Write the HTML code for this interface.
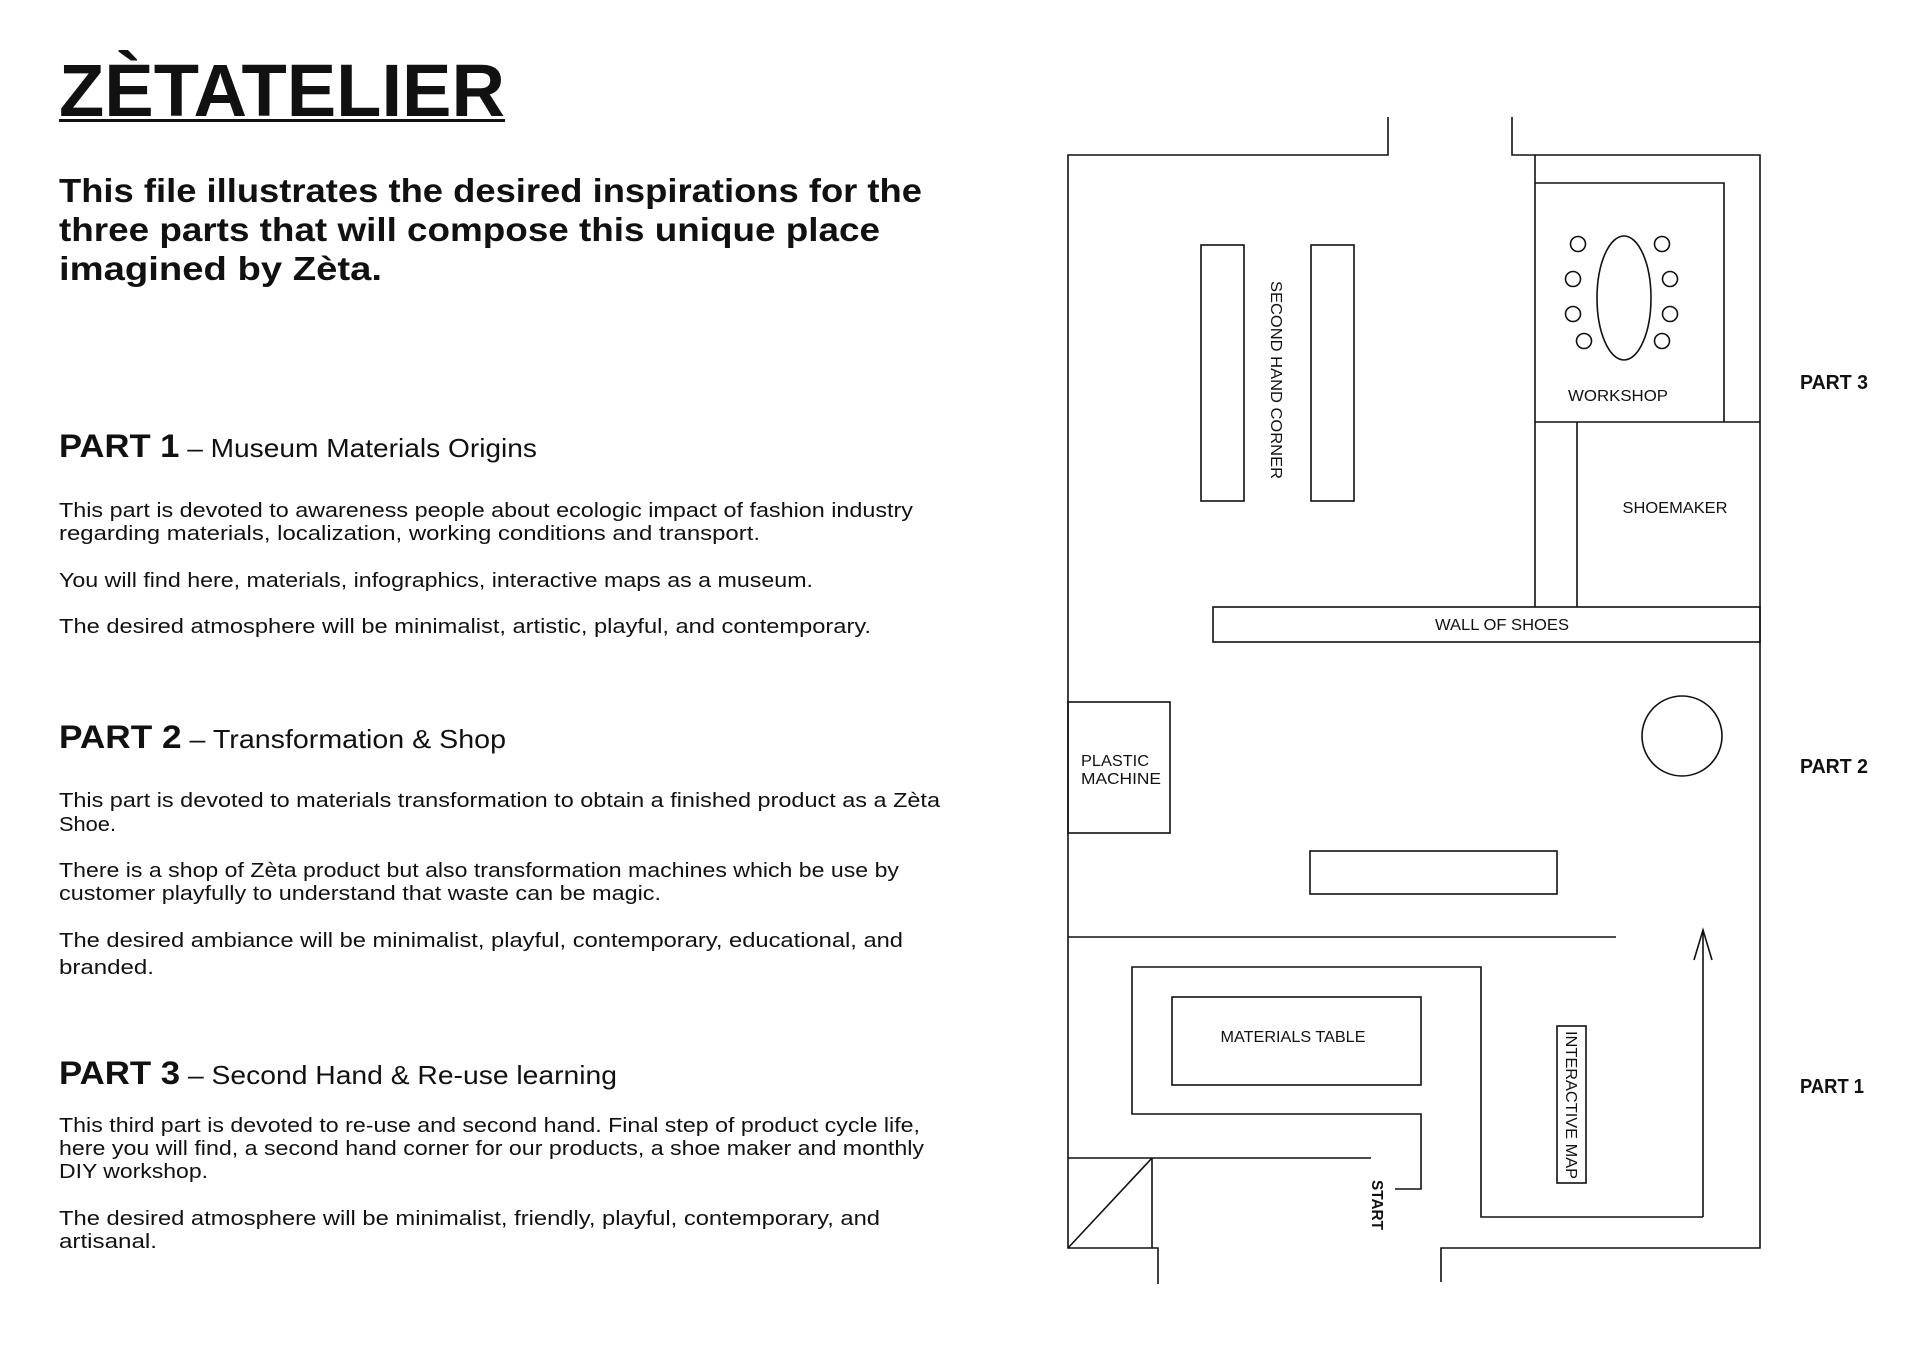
<!DOCTYPE html>
<html><head><meta charset="utf-8"><style>
html,body{margin:0;padding:0;background:#fff;}
svg{display:block;}
text{font-family:"Liberation Sans",sans-serif;fill:#111;}
</style></head><body>
<svg width="1920" height="1357" viewBox="0 0 1920 1357" xmlns="http://www.w3.org/2000/svg">
<rect width="1920" height="1357" fill="#fff"/>
<text x="59" y="116" font-size="74" font-weight="bold" textLength="446" lengthAdjust="spacingAndGlyphs">ZÈTATELIER</text>
<rect x="59" y="119" width="446" height="3" fill="#111"/>
<g font-size="33" font-weight="bold">
<text x="59" y="202" textLength="863" lengthAdjust="spacingAndGlyphs">This file illustrates the desired inspirations for the</text>
<text x="59" y="241" textLength="821" lengthAdjust="spacingAndGlyphs">three parts that will compose this unique place</text>
<text x="59" y="280" textLength="323" lengthAdjust="spacingAndGlyphs">imagined by Zèta.</text>
</g>
<text x="59" y="457" font-size="32" textLength="478" lengthAdjust="spacingAndGlyphs"><tspan font-weight="bold">PART 1</tspan><tspan font-size="26"> – Museum Materials Origins</tspan></text>
<text x="59" y="748" font-size="32" textLength="447" lengthAdjust="spacingAndGlyphs"><tspan font-weight="bold">PART 2</tspan><tspan font-size="26"> – Transformation &amp; Shop</tspan></text>
<text x="59" y="1084" font-size="32" textLength="558" lengthAdjust="spacingAndGlyphs"><tspan font-weight="bold">PART 3</tspan><tspan font-size="26"> – Second Hand &amp; Re-use learning</tspan></text>
<g font-size="20">
<text x="59" y="517" textLength="854" lengthAdjust="spacingAndGlyphs">This part is devoted to awareness people about ecologic impact of fashion industry</text>
<text x="59" y="540" textLength="701" lengthAdjust="spacingAndGlyphs">regarding materials, localization, working conditions and transport.</text>
<text x="59" y="587" textLength="754" lengthAdjust="spacingAndGlyphs">You will find here, materials, infographics, interactive maps as a museum.</text>
<text x="59" y="633" textLength="812" lengthAdjust="spacingAndGlyphs">The desired atmosphere will be minimalist, artistic, playful, and contemporary.</text>
<text x="59" y="807" textLength="881" lengthAdjust="spacingAndGlyphs">This part is devoted to materials transformation to obtain a finished product as a Zèta</text>
<text x="59" y="831" textLength="57" lengthAdjust="spacingAndGlyphs">Shoe.</text>
<text x="59" y="877" textLength="840" lengthAdjust="spacingAndGlyphs">There is a shop of Zèta product but also transformation machines which be use by</text>
<text x="59" y="900" textLength="602" lengthAdjust="spacingAndGlyphs">customer playfully to understand that waste can be magic.</text>
<text x="59" y="947" textLength="844" lengthAdjust="spacingAndGlyphs">The desired ambiance will be minimalist, playful, contemporary, educational, and</text>
<text x="59" y="974" textLength="95" lengthAdjust="spacingAndGlyphs">branded.</text>
<text x="59" y="1132" textLength="861" lengthAdjust="spacingAndGlyphs">This third part is devoted to re-use and second hand. Final step of product cycle life,</text>
<text x="59" y="1155" textLength="865" lengthAdjust="spacingAndGlyphs">here you will find, a second hand corner for our products, a shoe maker and monthly</text>
<text x="59" y="1178" textLength="149" lengthAdjust="spacingAndGlyphs">DIY workshop.</text>
<text x="59" y="1225" textLength="821" lengthAdjust="spacingAndGlyphs">The desired atmosphere will be minimalist, friendly, playful, contemporary, and</text>
<text x="59" y="1248" textLength="98" lengthAdjust="spacingAndGlyphs">artisanal.</text>
</g>
<g fill="none" stroke="#111" stroke-width="1.6">
<polyline points="1388,117 1388,155 1068,155 1068,1248 1158,1248 1158,1284"/>
<polyline points="1512,117 1512,155 1760,155 1760,1248 1441,1248 1441,1282"/>
<line x1="1535" y1="155" x2="1535" y2="607"/>
<polyline points="1535,183 1724,183 1724,422"/>
<line x1="1535" y1="422" x2="1760" y2="422"/>
<line x1="1577" y1="422" x2="1577" y2="607"/>
<rect x="1213" y="607" width="547" height="35"/>
<rect x="1201" y="245" width="43" height="256"/>
<rect x="1311" y="245" width="43" height="256"/>
<ellipse cx="1624" cy="298" rx="27" ry="62"/>
<circle cx="1578" cy="244" r="7.5"/>
<circle cx="1662" cy="244" r="7.5"/>
<circle cx="1573" cy="279" r="7.5"/>
<circle cx="1670" cy="279" r="7.5"/>
<circle cx="1573" cy="314" r="7.5"/>
<circle cx="1670" cy="314" r="7.5"/>
<circle cx="1584" cy="341" r="7.5"/>
<circle cx="1662" cy="341" r="7.5"/>
<rect x="1068" y="702" width="102" height="131"/>
<circle cx="1682" cy="736" r="40"/>
<rect x="1310" y="851" width="247" height="43"/>
<line x1="1068" y1="937" x2="1616" y2="937"/>
<line x1="1703" y1="1217" x2="1703" y2="930"/>
<polyline points="1694,960 1703,930 1712,960"/>
<polyline points="1703,1217 1481,1217 1481,967 1132,967 1132,1114 1421,1114 1421,1189 1395,1189"/>
<rect x="1172" y="997" width="249" height="88"/>
<rect x="1557" y="1026" width="29" height="157"/>
<line x1="1068" y1="1158" x2="1371" y2="1158"/>
<line x1="1152" y1="1158" x2="1152" y2="1248"/>
<line x1="1068" y1="1248" x2="1152" y2="1158"/>
</g>
<g font-size="16" text-anchor="middle">
<text x="1618" y="401" textLength="100" lengthAdjust="spacingAndGlyphs">WORKSHOP</text>
<text x="1675" y="513" textLength="105" lengthAdjust="spacingAndGlyphs">SHOEMAKER</text>
<text x="1502" y="630" textLength="134" lengthAdjust="spacingAndGlyphs">WALL OF SHOES</text>
<text x="1293" y="1042" textLength="145" lengthAdjust="spacingAndGlyphs">MATERIALS TABLE</text>
<text x="1271" y="380" transform="rotate(90 1271 380)" textLength="198" lengthAdjust="spacingAndGlyphs">SECOND HAND CORNER</text>
<text x="1566" y="1105" transform="rotate(90 1566 1105)" textLength="148" lengthAdjust="spacingAndGlyphs">INTERACTIVE MAP</text>
</g>
<g font-size="16">
<text x="1081" y="766" textLength="68" lengthAdjust="spacingAndGlyphs">PLASTIC</text>
<text x="1081" y="784" textLength="80" lengthAdjust="spacingAndGlyphs">MACHINE</text>
</g>
<text x="1372" y="1180" transform="rotate(90 1372 1180)" font-size="16" font-weight="bold" textLength="50" lengthAdjust="spacingAndGlyphs">START</text>
<g font-size="20" font-weight="bold">
<text x="1800" y="389" textLength="68" lengthAdjust="spacingAndGlyphs">PART 3</text>
<text x="1800" y="773" textLength="68" lengthAdjust="spacingAndGlyphs">PART 2</text>
<text x="1800" y="1093" textLength="64" lengthAdjust="spacingAndGlyphs">PART 1</text>
</g>
</svg>
</body></html>
